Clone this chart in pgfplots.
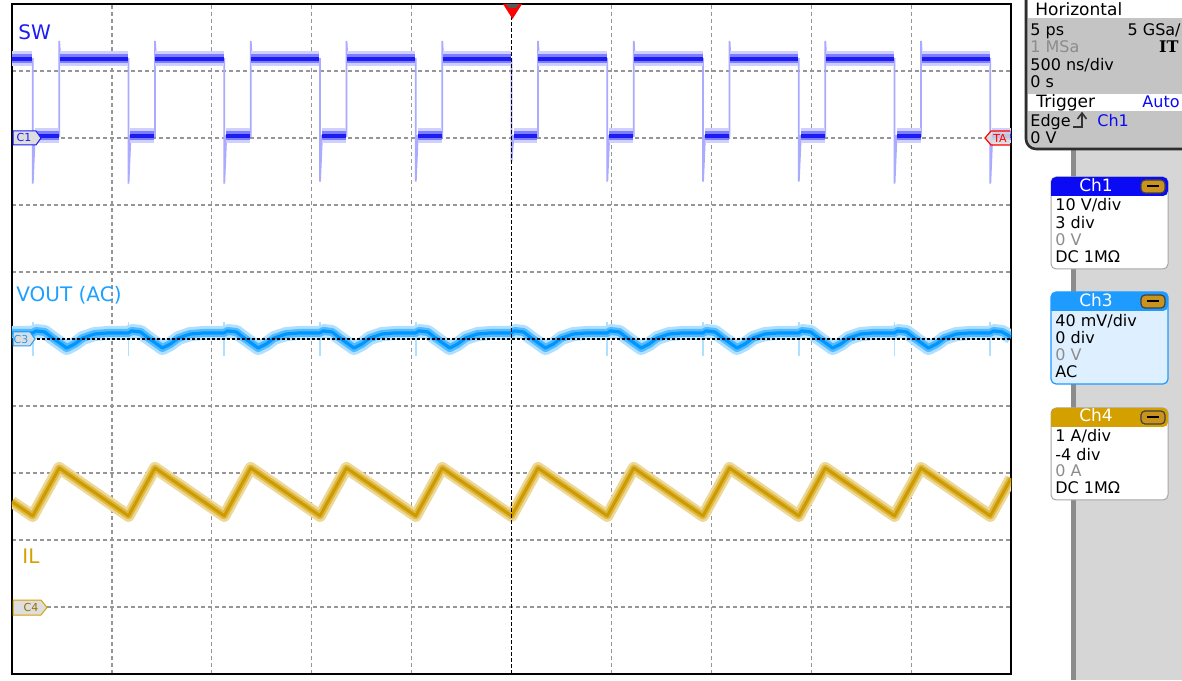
\documentclass[border=0pt]{standalone}
\usepackage{pgfplots}
\usepackage{pgfplotstable}
\pgfplotsset{compat=1.18}
\usepackage{fontspec}
\setmainfont{DejaVu Sans}
\newfontfamily\seriffont{DejaVu Serif}

\definecolor{swcore}{RGB}{28,28,242}
\definecolor{swmid}{RGB}{125,125,255}
\definecolor{swlight}{RGB}{208,208,255}
\definecolor{swedgecol}{RGB}{170,170,255}
\definecolor{vcore}{RGB}{0,150,255}
\definecolor{vmid}{RGB}{80,185,255}
\definecolor{vlight}{RGB}{175,224,255}
\definecolor{vtext}{RGB}{30,160,255}
\definecolor{icore}{RGB}{205,155,0}
\definecolor{imid}{RGB}{222,185,70}
\definecolor{ilight}{RGB}{238,216,150}
\definecolor{itext}{RGB}{212,160,0}
\definecolor{gridgray}{RGB}{150,150,150}
\definecolor{panelgray}{RGB}{214,214,214}
\definecolor{linegray}{RGB}{140,140,140}
\definecolor{hgray}{RGB}{196,196,196}
\definecolor{hborder}{RGB}{45,45,45}
\definecolor{ch1col}{RGB}{10,10,245}
\definecolor{ch3col}{RGB}{30,155,255}
\definecolor{ch3fill}{RGB}{222,240,255}
\definecolor{ch4col}{RGB}{212,160,0}
\definecolor{btngold}{RGB}{200,148,30}
\definecolor{markgray}{RGB}{222,222,222}
\definecolor{txtgray}{RGB}{140,140,140}

% SW: full waveform (thin, edges and spikes)
\pgfplotstableread{
x y
0 4.18
0.2075 4.18
0.2075 2.32
0.2275 3.03
0.4725 3.03
0.4725 4.45
0.4825 4.18
1.166 4.18
1.166 2.32
1.186 3.03
1.431 3.03
1.431 4.45
1.441 4.18
2.1245 4.18
2.1245 2.32
2.1445 3.03
2.3895 3.03
2.3895 4.45
2.3995 4.18
3.083 4.18
3.083 2.35
3.103 3.03
3.348 3.03
3.348 4.45
3.358 4.18
4.0415 4.18
4.0415 2.35
4.0615 3.03
4.3065 3.03
4.3065 4.45
4.3165 4.18
5.0 4.18
5.0 2.65
5.02 3.03
5.265 3.03
5.265 4.45
5.275 4.18
5.9585 4.18
5.9585 2.35
5.9785 3.03
6.2235 3.03
6.2235 4.45
6.2335 4.18
6.917 4.18
6.917 2.35
6.937 3.03
7.182 3.03
7.182 4.45
7.192 4.18
7.8755 4.18
7.8755 2.35
7.8955 3.03
8.1405 3.03
8.1405 4.45
8.1505 4.18
8.834 4.18
8.834 2.32
8.854 3.03
9.099 3.03
9.099 4.45
9.109 4.18
9.7925 4.18
9.7925 2.32
9.8125 3.03
10.0 3.03
}\tswedge

% SW: flat high / low segments (bands)
\pgfplotstableread{
x y
0 4.18
0.2025 4.18
0.2025 nan
0.2275 3.03
0.4675 3.03
0.4675 nan
0.4775 4.18
1.161 4.18
1.161 nan
1.186 3.03
1.426 3.03
1.426 nan
1.436 4.18
2.1195 4.18
2.1195 nan
2.1445 3.03
2.3845 3.03
2.3845 nan
2.3945 4.18
3.078 4.18
3.078 nan
3.103 3.03
3.343 3.03
3.343 nan
3.353 4.18
4.0365 4.18
4.0365 nan
4.0615 3.03
4.3015 3.03
4.3015 nan
4.3115 4.18
4.995 4.18
4.995 nan
5.02 3.03
5.26 3.03
5.26 nan
5.27 4.18
5.9535 4.18
5.9535 nan
5.9785 3.03
6.2185 3.03
6.2185 nan
6.2285 4.18
6.912 4.18
6.912 nan
6.937 3.03
7.177 3.03
7.177 nan
7.187 4.18
7.8705 4.18
7.8705 nan
7.8955 3.03
8.1355 3.03
8.1355 nan
8.1455 4.18
8.829 4.18
8.829 nan
8.854 3.03
9.094 3.03
9.094 nan
9.104 4.18
9.7875 4.18
9.7875 nan
9.8125 3.03
10.0 3.03
}\tswseg

% VOUT (AC) ripple
\pgfplotstableread{
x y
0 0.09
0.2075 0.09
0.2375 0.12
0.3275 0.105
0.4075 0.015
0.5475 -0.135
0.6275 -0.075
0.7075 0.015
0.8275 0.075
0.9575 0.09
1.166 0.09
1.196 0.12
1.286 0.105
1.366 0.015
1.506 -0.135
1.586 -0.075
1.666 0.015
1.786 0.075
1.916 0.09
2.1245 0.09
2.1545 0.12
2.2445 0.105
2.3245 0.015
2.4645 -0.135
2.5445 -0.075
2.6245 0.015
2.7445 0.075
2.8745 0.09
3.083 0.09
3.113 0.12
3.203 0.105
3.283 0.015
3.423 -0.135
3.503 -0.075
3.583 0.015
3.703 0.075
3.833 0.09
4.0415 0.09
4.0715 0.12
4.1615 0.105
4.2415 0.015
4.3815 -0.135
4.4615 -0.075
4.5415 0.015
4.6615 0.075
4.7915 0.09
5.0 0.09
5.03 0.12
5.12 0.105
5.20 0.015
5.34 -0.135
5.42 -0.075
5.50 0.015
5.62 0.075
5.75 0.09
5.9585 0.09
5.9885 0.12
6.0785 0.105
6.1585 0.015
6.2985 -0.135
6.3785 -0.075
6.4585 0.015
6.5785 0.075
6.7085 0.09
6.917 0.09
6.947 0.12
7.037 0.105
7.117 0.015
7.257 -0.135
7.337 -0.075
7.417 0.015
7.537 0.075
7.667 0.09
7.8755 0.09
7.9055 0.12
7.9955 0.105
8.0755 0.015
8.2155 -0.135
8.2955 -0.075
8.3755 0.015
8.4955 0.075
8.6255 0.09
8.834 0.09
8.864 0.12
8.954 0.105
9.034 0.015
9.174 -0.135
9.254 -0.075
9.334 0.015
9.454 0.075
9.584 0.09
9.7925 0.09
9.8225 0.12
9.9125 0.105
10.0 0.03
}\tvout

% VOUT switching spikes
\pgfplotstableread{
x y
0.2075 0.25
0.2075 -0.25
0.2075 nan
1.166 0.25
1.166 -0.25
1.166 nan
2.1245 0.25
2.1245 -0.25
2.1245 nan
3.083 0.25
3.083 -0.25
3.083 nan
4.0415 0.25
4.0415 -0.25
4.0415 nan
5.0 0.25
5.0 -0.25
5.0 nan
5.9585 0.25
5.9585 -0.25
5.9585 nan
6.917 0.25
6.917 -0.25
6.917 nan
7.8755 0.25
7.8755 -0.25
7.8755 nan
8.834 0.25
8.834 -0.25
8.834 nan
9.7925 0.25
9.7925 -0.25
}\tvspk

% IL inductor current (divisions)
\pgfplotstableread{
x y
0 -2.43
0.2075 -2.64
0.4725 -1.925
1.166 -2.64
1.431 -1.925
2.1245 -2.64
2.3895 -1.925
3.083 -2.64
3.348 -1.925
4.0415 -2.64
4.3065 -1.925
5.0 -2.64
5.265 -1.925
5.9585 -2.64
6.2235 -1.925
6.917 -2.64
7.182 -1.925
7.8755 -2.64
8.1405 -1.925
8.834 -2.64
9.099 -1.925
9.7925 -2.64
10.0 -2.08
}\til

\newcommand\pf{\fontsize{8}{9.6}\selectfont}
\newcommand\hf{\fontsize{8.5}{10}\selectfont}

\begin{document}
\begin{tikzpicture}
\useasboundingbox (0,0) rectangle (591pt,340pt);
\fill[white] (0,0) rectangle (591pt,340pt);

\begin{axis}[
  at={(6pt,3pt)}, anchor=south west,
  scale only axis, width=499.5pt, height=335pt,
  xmin=0, xmax=10, ymin=-5, ymax=5,
  xtick={1,2,3,4,6,7,8,9}, ytick={-4,-3,-2,-1,1,2,3,4},
  xticklabels={}, yticklabels={},
  tick label style={opacity=0},
  major tick length=0pt, tick style={draw=none},
  grid=major,
  major grid style={gridgray, line width=0.6pt, dash pattern=on 2pt off 1.5pt},
  axis line style={black, line width=0.9pt},
  unbounded coords=jump,
]
% SW
\addplot[no marks, swedgecol, line width=0.9pt] table {\tswedge};
\addplot[no marks, swlight, line width=7.5pt, line cap=butt] table {\tswseg};
\addplot[no marks, swmid, line width=4.5pt, line cap=butt] table {\tswseg};
\addplot[no marks, swcore, line width=2.2pt, line cap=butt] table {\tswseg};
% VOUT
\addplot[no marks, vlight, line width=0.8pt] table {\tvspk};
\addplot[no marks, vlight, line width=7pt, line join=round] table {\tvout};
\addplot[no marks, vmid, line width=4pt, line join=round] table {\tvout};
\addplot[no marks, vcore, line width=1.6pt, line join=round] table {\tvout};
% IL
\addplot[no marks, ilight, line width=6pt, line join=round] table {\til};
\addplot[no marks, imid, line width=3.5pt, line join=round] table {\til};
\addplot[no marks, icore, line width=1.5pt, line join=round] table {\til};
% reference lines
\draw[black, line width=0.6pt, dash pattern=on 1.5pt off 1pt] (axis cs:0,0) -- (axis cs:10,0);
\draw[black, line width=0.6pt, dash pattern=on 2pt off 1pt] (axis cs:5,-5) -- (axis cs:5,5);
\end{axis}

\begin{scope}[shift={(0pt,340pt)}, x=0.5pt, y=-0.5pt]
% channel labels
\node[anchor=base west, inner sep=0, text=swcore, font=\fontsize{10}{12}\selectfont] at (18,40) {SW};
\node[anchor=base west, inner sep=0, text=vtext, font=\fontsize{10}{12}\selectfont] at (16,302) {VOUT (AC)};
\node[anchor=base west, inner sep=0, text=itext, font=\fontsize{10}{12}\selectfont] at (22,563) {IL};
% markers
\draw[fill=markgray, draw=swcore, line width=0.5pt] (13,131) -- (36,131) -- (41,138) -- (36,145) -- (13,145) -- cycle;
\node[text=swcore, font=\fontsize{5.5}{6}\selectfont, inner sep=0] at (24,138) {C1};
\draw[fill=markgray, draw=vtext, line width=0.5pt] (13,332) -- (30,332) -- (35,339) -- (30,346) -- (13,346) -- cycle;
\node[text=vtext, font=\fontsize{5.5}{6}\selectfont, inner sep=0] at (21,339) {C3};
\draw[fill=markgray, draw=itext, line width=0.5pt] (13,600) -- (41,600) -- (47,607.5) -- (41,615) -- (13,615) -- cycle;
\node[text=itext!70!black, font=\fontsize{5.5}{6}\selectfont, inner sep=0] at (31,607.5) {C4};
\draw[fill=markgray, fill opacity=0.85, draw=red, line width=0.6pt] (1010,131) -- (991,131) -- (985,138) -- (991,145) -- (1010,145);
\node[text=red, font=\fontsize{5.5}{6}\selectfont, inner sep=0] at (1000,138) {TA};
% trigger marker
\fill[red] (503,4) -- (522,4) -- (512.5,19) -- cycle;
\fill[black!65] (506,4) -- (519,4) -- (516,8) -- (509,8) -- cycle;

% right panel
\fill[white] (1012.5,0) rectangle (1182,680);
\fill[panelgray] (1075,150) rectangle (1182,680);
\fill[linegray] (1071,150) rectangle (1076,680);
% Horizontal box
\fill[hgray, rounded corners=5pt] (1026,-12) -- (1026,149) -- (1196,149) -- (1196,-12) -- cycle;
\fill[white] (1028,0) rectangle (1182,18);
\fill[white] (1028,94) rectangle (1182,111);
\draw[hborder, line width=1.3pt, rounded corners=5pt] (1026,-12) -- (1026,149) -- (1196,149);
\node[anchor=base west, inner sep=0, font=\hf] at (1035,16) {Horizontal};
\node[anchor=base west, inner sep=0, font=\pf] at (1030,36) {5 ps};
\node[anchor=base east, inner sep=0, font=\pf] at (1181,36) {5 GSa/};
\node[anchor=base west, inner sep=0, font=\pf, text=txtgray] at (1030,53) {1 MSa};
\node[anchor=base east, inner sep=0, font=\fontsize{8}{9.6}\seriffont\bfseries] at (1179,53) {IT};
\node[anchor=base west, inner sep=0, font=\pf] at (1030,71) {500 ns/div};
\node[anchor=base west, inner sep=0, font=\pf] at (1030,88) {0 s};
\node[anchor=base west, inner sep=0, font=\hf] at (1036,108) {Trigger};
\node[anchor=base east, inner sep=0, font=\pf, text=ch1col] at (1180,108) {Auto};
\node[anchor=base west, inner sep=0, font=\pf] at (1030,127) {Edge};
\draw[black!80, line width=0.8pt] (1073,127) -- (1082,127) -- (1082,113);
\draw[black!80, line width=0.8pt] (1077.5,119) -- (1082,113) -- (1086.5,119);
\node[anchor=base west, inner sep=0, font=\pf, text=ch1col] at (1097,127) {Ch1};
\node[anchor=base west, inner sep=0, font=\pf] at (1030,144) {0 V};

% Ch1 box
\draw[fill=white, draw=gray!70, line width=0.5pt, rounded corners=2.5pt] (1051,177) rectangle (1168,269);
\fill[ch1col, rounded corners=2.5pt] (1051,196) -- (1051,177) -- (1168,177) -- (1168,196) [sharp corners] -- cycle;
\node[anchor=base, inner sep=0, font=\hf, text=white] at (1096,192) {Ch1};
\draw[fill=btngold, draw=gray!50!black, line width=0.6pt, rounded corners=2pt] (1141,180) rectangle (1165,193);
\draw[black, line width=1pt] (1147,186.5) -- (1159,186.5);
\node[anchor=base west, inner sep=0, font=\pf] at (1055,211) {10 V/div};
\node[anchor=base west, inner sep=0, font=\pf] at (1055,229) {3 div};
\node[anchor=base west, inner sep=0, font=\pf, text=txtgray] at (1055,246) {0 V};
\node[anchor=base west, inner sep=0, font=\pf] at (1055,263) {DC 1MΩ};

% Ch3 box
\draw[fill=ch3fill, draw=ch3col, line width=0.6pt, rounded corners=2.5pt] (1051,292) rectangle (1168,384);
\fill[ch3col, rounded corners=2.5pt] (1051,311) -- (1051,292) -- (1168,292) -- (1168,311) [sharp corners] -- cycle;
\node[anchor=base, inner sep=0, font=\hf, text=white] at (1096,307) {Ch3};
\draw[fill=btngold, draw=gray!50!black, line width=0.6pt, rounded corners=2pt] (1141,295) rectangle (1165,308);
\draw[black, line width=1pt] (1147,301.5) -- (1159,301.5);
\node[anchor=base west, inner sep=0, font=\pf] at (1055,327) {40 mV/div};
\node[anchor=base west, inner sep=0, font=\pf] at (1055,344) {0 div};
\node[anchor=base west, inner sep=0, font=\pf, text=txtgray] at (1055,361) {0 V};
\node[anchor=base west, inner sep=0, font=\pf] at (1055,378) {AC};

% Ch4 box
\draw[fill=white, draw=gray!70, line width=0.5pt, rounded corners=2.5pt] (1051,408) rectangle (1168,500);
\fill[ch4col, rounded corners=2.5pt] (1051,427) -- (1051,408) -- (1168,408) -- (1168,427) [sharp corners] -- cycle;
\node[anchor=base, inner sep=0, font=\hf, text=white] at (1096,422) {Ch4};
\draw[fill=btngold, draw=gray!50!black, line width=0.6pt, rounded corners=2pt] (1141,411) rectangle (1165,424);
\draw[black, line width=1pt] (1147,417.5) -- (1159,417.5);
\node[anchor=base west, inner sep=0, font=\pf] at (1055,442) {1 A/div};
\node[anchor=base west, inner sep=0, font=\pf] at (1055,460) {-4 div};
\node[anchor=base west, inner sep=0, font=\pf, text=txtgray] at (1055,477) {0 A};
\node[anchor=base west, inner sep=0, font=\pf] at (1055,494) {DC 1MΩ};
\end{scope}
\end{tikzpicture}
\end{document}
